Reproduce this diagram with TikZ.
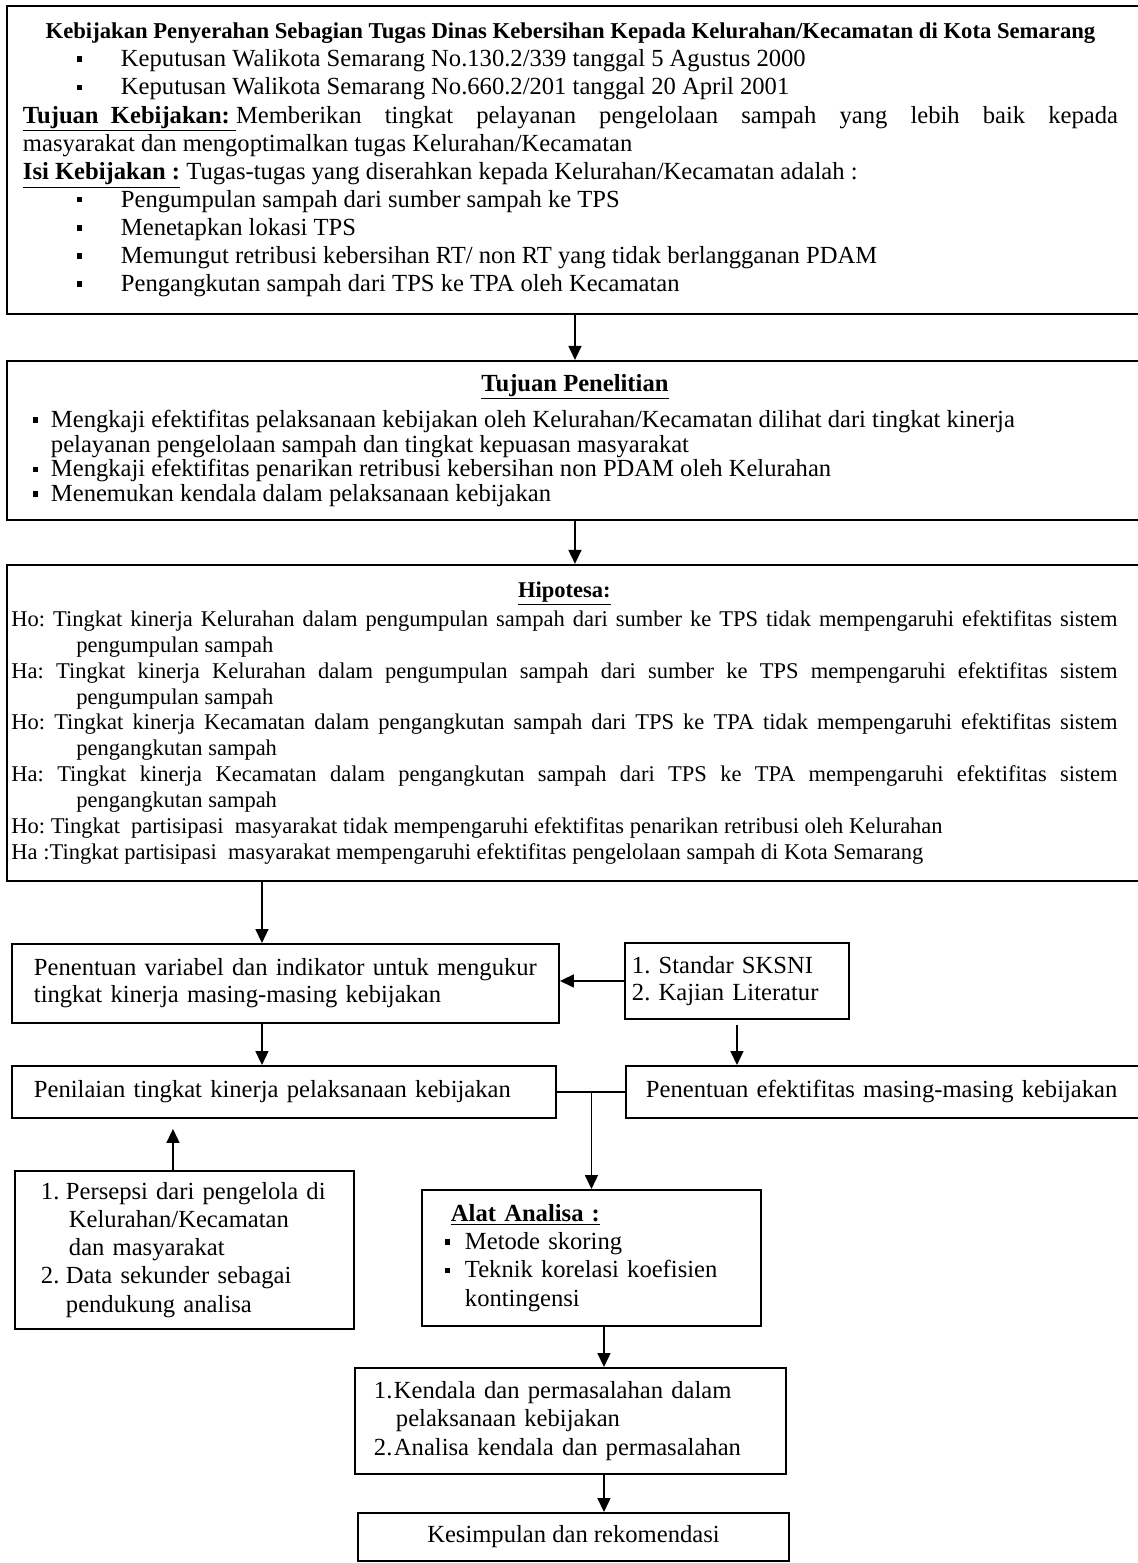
\documentclass[tikz,border=0pt]{standalone}
\usepackage{fontspec}
\setmainfont{Liberation Serif}
\usetikzlibrary{positioning,arrows.meta,calc}
\tikzset{>={Triangle[length=0.28cm,width=0.26cm]}}
\newcommand{\sqbul}{\rule[0.2em]{0.22em}{0.22em}}
\frenchspacing

\begin{document}
\begin{tikzpicture}[
    box/.style={draw, line width=1.1pt, inner ysep=2pt,
      font=\fontsize{14}{16}\selectfont\frenchspacing},
    arr/.style={->, line width=0.9pt}]
  \useasboundingbox (0,0) rectangle (22.74,-31.26);

  \node[box, anchor=north west, minimum width=22.72cm, minimum height=6.16cm,
        inner xsep=0.32cm] (kebijakan) at (0.12,-0.10) {%
    \begin{minipage}{21.9cm}
    {\centering\bfseries\fontsize{12.9}{16}\selectfont Kebijakan Penyerahan Sebagian Tugas Dinas Kebersihan Kepada Kelurahan/Kecamatan di Kota Semarang\par}
    \hspace*{1.08cm}\makebox[0.88cm][l]{\sqbul}Keputusan Walikota Semarang No.130.2/339 tanggal 5 Agustus 2000\par
    \hspace*{1.08cm}\makebox[0.88cm][l]{\sqbul}Keputusan Walikota Semarang No.660.2/201 tanggal 20 April 2001\par
    \underline{\textbf{Tujuan\ \ Kebijakan:\ }}Memberikan tingkat pelayanan pengelolaan sampah yang lebih baik kepada\linebreak masyarakat dan mengoptimalkan tugas Kelurahan/Kecamatan\par
    \underline{\textbf{Isi Kebijakan :}} Tugas-tugas yang diserahkan kepada Kelurahan/Kecamatan adalah :\par
    \hspace*{1.08cm}\makebox[0.88cm][l]{\sqbul}Pengumpulan sampah dari sumber sampah ke TPS\par
    \hspace*{1.08cm}\makebox[0.88cm][l]{\sqbul}Menetapkan lokasi TPS\par
    \hspace*{1.08cm}\makebox[0.88cm][l]{\sqbul}Memungut retribusi kebersihan RT/ non RT yang tidak berlangganan PDAM\par
    \hspace*{1.08cm}\makebox[0.88cm][l]{\sqbul}Pengangkutan sampah dari TPS ke TPA oleh Kecamatan\par
    \end{minipage}\hspace*{0.18cm}};

  \node[box, minimum width=22.72cm, minimum height=3.18cm, inner xsep=0.52cm,
        font=\fontsize{14}{14}\selectfont] (tujuan) [below=0.9cm of kebijakan] {%
    \begin{minipage}{21.68cm}
    {\centering\underline{\textbf{Tujuan Penelitian}}\par}
    \vspace{5pt}
    \hangindent=0.36cm\hangafter=1 \makebox[0.36cm][l]{\sqbul}Mengkaji efektifitas pelaksanaan kebijakan oleh Kelurahan/Kecamatan dilihat dari tingkat kinerja\\ pelayanan pengelolaan sampah dan tingkat kepuasan masyarakat\par
    \makebox[0.36cm][l]{\sqbul}Mengkaji efektifitas penarikan retribusi kebersihan non PDAM oleh Kelurahan\par
    \makebox[0.36cm][l]{\sqbul}Menemukan kendala dalam pelaksanaan kebijakan\par
    \end{minipage}};

  \node[box, minimum width=22.72cm, minimum height=6.32cm, inner xsep=0.08cm,
        font=\fontsize{12.8}{14.7}\selectfont] (hipotesa) [below=0.86cm of tujuan] {%
    \begin{minipage}{22.12cm}
    \hyphenpenalty=10000
    {\centering\underline{\textbf{Hipotesa:}}\par}
    \vspace{2pt}
    \hangindent=1.3cm\hangafter=1 Ho: Tingkat kinerja Kelurahan dalam pengumpulan sampah dari sumber ke TPS tidak mempengaruhi efektifitas sistem\linebreak pengumpulan sampah\par
    \hangindent=1.3cm\hangafter=1 Ha: Tingkat kinerja Kelurahan dalam pengumpulan sampah dari sumber ke TPS mempengaruhi efektifitas sistem\linebreak pengumpulan sampah\par
    \hangindent=1.3cm\hangafter=1 Ho: Tingkat kinerja Kecamatan dalam pengangkutan sampah dari TPS ke TPA tidak mempengaruhi efektifitas sistem\linebreak pengangkutan sampah\par
    \hangindent=1.3cm\hangafter=1 Ha: Tingkat kinerja Kecamatan dalam pengangkutan sampah dari TPS ke TPA mempengaruhi efektifitas sistem\linebreak pengangkutan sampah\par
    Ho: Tingkat\ \ partisipasi\ \ masyarakat tidak mempengaruhi efektifitas penarikan retribusi oleh Kelurahan\par
    Ha :Tingkat partisipasi\ \ masyarakat mempengaruhi efektifitas pengelolaan sampah di Kota Semarang\par
    \end{minipage}\hspace*{0.42cm}};

  \node[box, anchor=north west, minimum width=10.94cm, minimum height=1.58cm, inner xsep=0.44cm,
        text width=10.06cm, align=left, font=\fontsize{14}{15.4}\selectfont] (variabel) at (0.22,-18.86)
    {Penentuan variabel dan indikator untuk mengukur\\tingkat kinerja masing-masing kebijakan};
  \node[box, anchor=north west, minimum width=4.48cm, minimum height=1.52cm, inner xsep=0.14cm,
        text width=4.2cm, align=left, font=\fontsize{14}{15.4}\selectfont] (standar) at (12.48,-18.84)
    {1. Standar SKSNI\\2. Kajian Literatur};
  \node[box, anchor=north west, minimum width=10.88cm, minimum height=1.04cm, inner xsep=0.44cm,
        text width=10.0cm, align=left] (penilaian) at (0.22,-21.30)
    {Penilaian tingkat kinerja pelaksanaan kebijakan};
  \node[box, anchor=north west, minimum width=10.34cm, minimum height=1.04cm, inner xsep=0.4cm,
        text width=9.54cm, align=left] (efektifitas) at (12.50,-21.30)
    {Penentuan efektifitas masing-masing kebijakan};
  \node[box, anchor=north west, minimum width=6.78cm, minimum height=3.16cm, inner xsep=0.52cm,
        text width=5.74cm, align=left] (persepsi) at (0.28,-23.40)
    {\makebox[0.5cm][l]{1.}Persepsi dari pengelola di\\
     \hspace*{0.56cm}Kelurahan/Kecamatan\\
     \hspace*{0.56cm}dan masyarakat\\
     \makebox[0.5cm][l]{2.}Data sekunder sebagai\\
     \hspace*{0.5cm}pendukung analisa};
  \node[box, anchor=north west, minimum width=6.78cm, minimum height=2.72cm, inner xsep=0.46cm,
        text width=5.86cm, align=left] (alat) at (8.42,-23.78)
    {\hspace*{0.12cm}\underline{\textbf{Alat Analisa :}}\\
     \makebox[0.4cm][l]{\sqbul}Metode skoring\\
     \makebox[0.4cm][l]{\sqbul}Teknik korelasi koefisien\\
     \hspace*{0.4cm}kontingensi};
  \node[box, anchor=north west, minimum width=8.62cm, minimum height=2.12cm, inner xsep=0.38cm,
        text width=7.86cm, align=left] (kendala) at (7.08,-27.34)
    {\makebox[0.4cm][l]{1.}Kendala dan permasalahan dalam\\
     \hspace*{0.44cm}pelaksanaan kebijakan\\
     \makebox[0.4cm][l]{2.}Analisa kendala dan permasalahan};
  \node[box, anchor=north west, minimum width=8.62cm, minimum height=0.96cm] (kesimpulan) at (7.14,-30.24)
    {Kesimpulan dan rekomendasi};

  % connectors
  \draw[arr] (kebijakan.south) -- (tujuan.north);
  \draw[arr] (tujuan.south) -- (hipotesa.north);
  \draw[arr] ([xshift=-0.47cm]variabel.north |- hipotesa.south) -- ([xshift=-0.47cm]variabel.north);
  \draw[arr] (standar.west) -- (standar.west -| variabel.east);
  \draw[arr] ([xshift=-0.47cm]variabel.south) -- ([xshift=-0.47cm]variabel.south |- penilaian.north);
  \draw[arr] ([yshift=-0.1cm]standar.south) -- (standar.south |- efektifitas.north);
  \draw[line width=0.9pt] (penilaian.east) -- (efektifitas.west);
  \draw[arr] (penilaian.east -| alat.north) -- (alat.north);
  \draw[arr, shorten >=0.2cm] ([xshift=-0.23cm]persepsi.north) -- ([xshift=-0.23cm]persepsi.north |- penilaian.south);
  \draw[arr] ([xshift=0.25cm]alat.south) -- ([xshift=0.25cm]alat.south |- kendala.north);
  \draw[arr] ([xshift=0.67cm]kendala.south) -- ([xshift=0.67cm]kendala.south |- kesimpulan.north);
\end{tikzpicture}
\end{document}
